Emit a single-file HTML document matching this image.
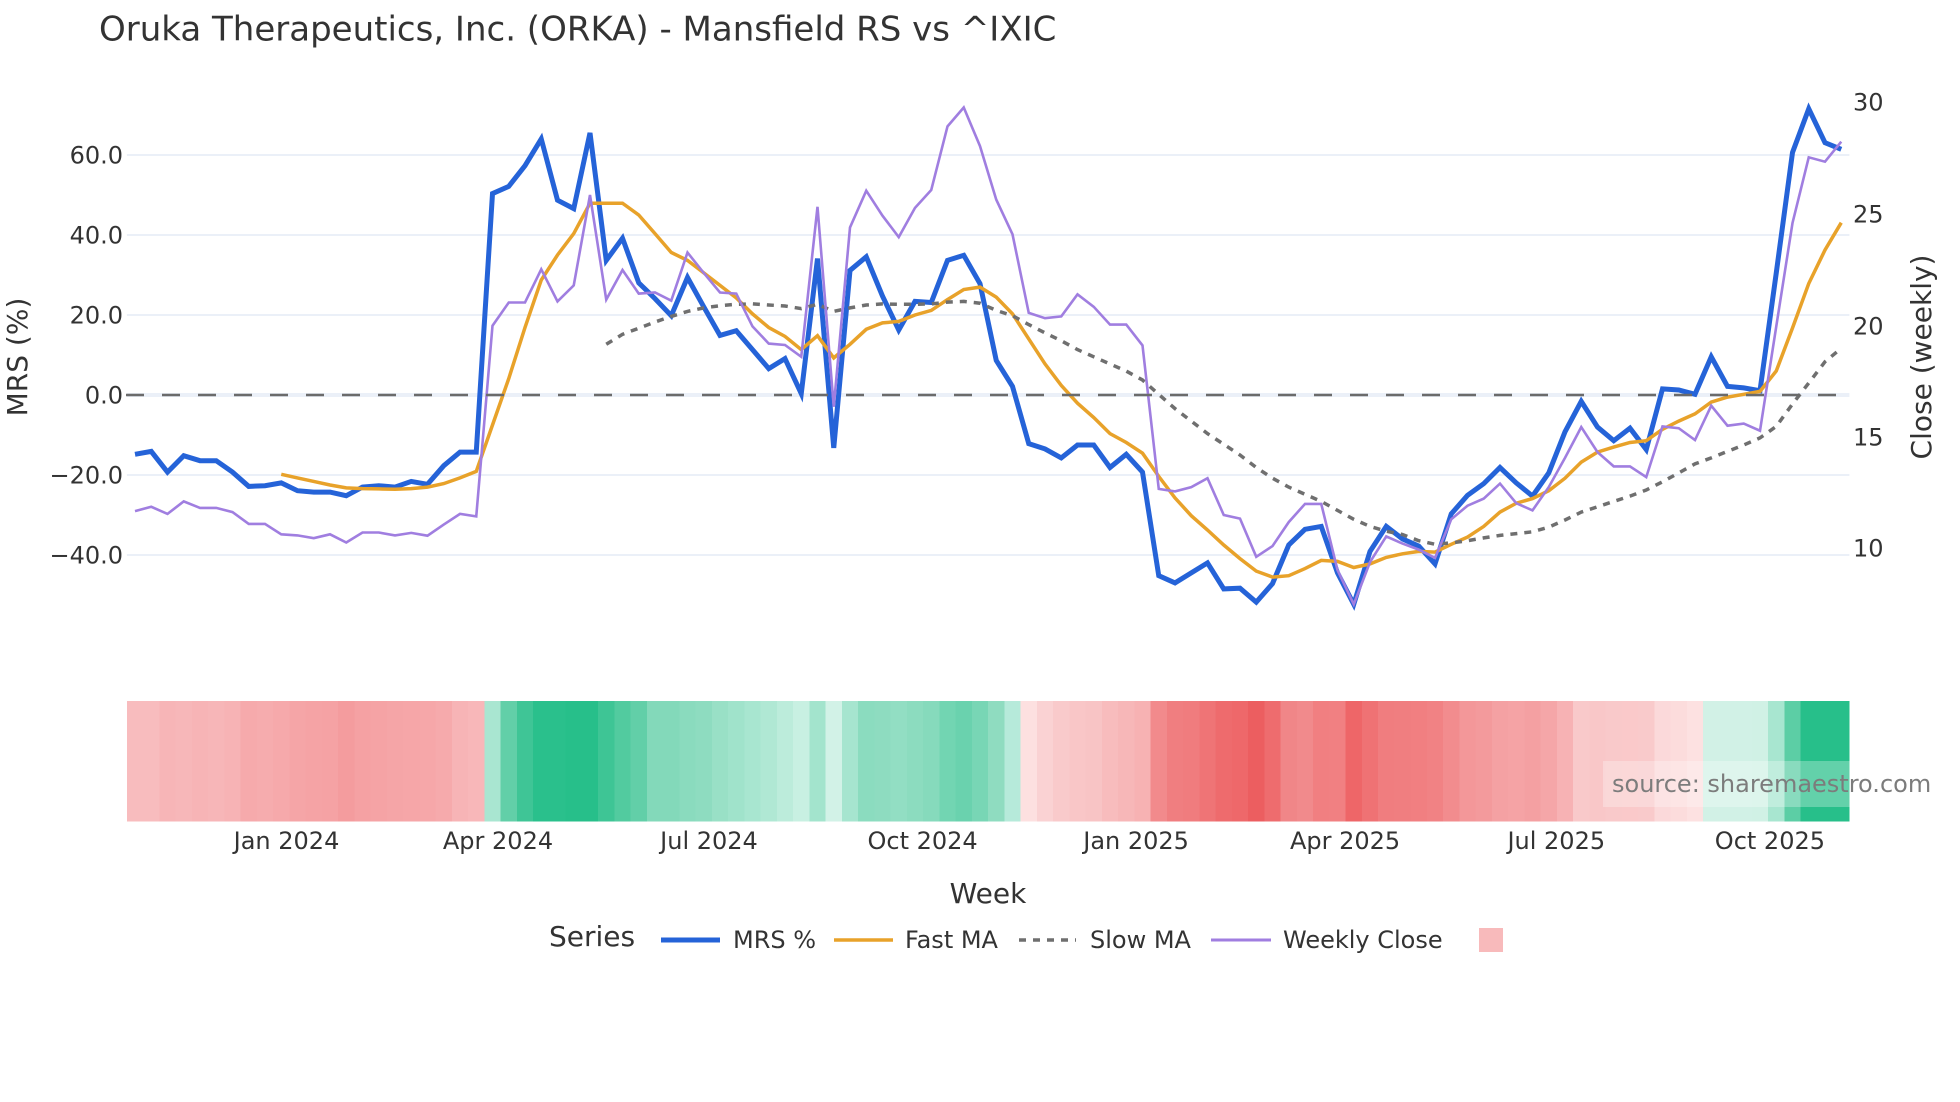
<!DOCTYPE html>
<html>
<head>
<meta charset="utf-8">
<style>
  html, body { margin: 0; padding: 0; background: #ffffff; }
  svg { display: block; }
  text { font-family: "DejaVu Sans", "Liberation Sans", sans-serif; fill: #333333; }
</style>
</head>
<body>
<svg width="1960" height="1102" viewBox="0 0 1960 1102" xmlns="http://www.w3.org/2000/svg">
  <rect x="0" y="0" width="1960" height="1102" fill="#ffffff"/>

  <!-- Title -->
  <text x="99" y="40.5" font-size="34">Oruka Therapeutics, Inc. (ORKA) - Mansfield RS vs ^IXIC</text>

  <!-- Gridlines -->
  <g stroke="#ebf0f8" stroke-width="2">
    <line x1="126.9" y1="155" x2="1849.4" y2="155"/>
    <line x1="126.9" y1="235" x2="1849.4" y2="235"/>
    <line x1="126.9" y1="315" x2="1849.4" y2="315"/>
    <line x1="126.9" y1="475" x2="1849.4" y2="475"/>
    <line x1="126.9" y1="555" x2="1849.4" y2="555"/>
  </g>
  <line x1="126.9" y1="395" x2="1849.4" y2="395" stroke="#ebf0f8" stroke-width="4"/>

  <!-- Left tick labels -->
  <g font-size="24" text-anchor="end">
    <text x="123" y="163.7">60.0</text>
    <text x="123" y="243.7">40.0</text>
    <text x="123" y="323.7">20.0</text>
    <text x="123" y="403.7">0.0</text>
    <text x="123" y="483.7">−20.0</text>
    <text x="123" y="563.7">−40.0</text>
  </g>
  <!-- Right tick labels -->
  <g font-size="24" text-anchor="start">
    <text x="1853" y="110.4">30</text>
    <text x="1853" y="222.7">25</text>
    <text x="1853" y="334.4">20</text>
    <text x="1853" y="445.4">15</text>
    <text x="1853" y="556.7">10</text>
  </g>

  <!-- Axis titles -->
  <text transform="translate(27,357) rotate(-90)" font-size="28" text-anchor="middle">MRS (%)</text>
  <text transform="translate(1931,357) rotate(-90)" font-size="28" text-anchor="middle">Close (weekly)</text>

  <!-- Heatmap strip -->
  <g shape-rendering="crispEdges">
    <rect x="126.88" y="701" width="16.75" height="120.7" fill="#f8bcbe"/>
    <rect x="143.13" y="701" width="16.75" height="120.7" fill="#f8bcbe"/>
    <rect x="159.38" y="701" width="16.75" height="120.7" fill="#f7b5b7"/>
    <rect x="175.63" y="701" width="16.75" height="120.7" fill="#f7b7b9"/>
    <rect x="191.88" y="701" width="16.75" height="120.7" fill="#f7b4b6"/>
    <rect x="208.13" y="701" width="16.75" height="120.7" fill="#f7b6b8"/>
    <rect x="224.38" y="701" width="16.75" height="120.7" fill="#f7b3b5"/>
    <rect x="240.63" y="701" width="16.75" height="120.7" fill="#f6aaac"/>
    <rect x="256.88" y="701" width="16.75" height="120.7" fill="#f6acae"/>
    <rect x="273.13" y="701" width="16.75" height="120.7" fill="#f6a9ab"/>
    <rect x="289.38" y="701" width="16.75" height="120.7" fill="#f5a5a7"/>
    <rect x="305.63" y="701" width="16.75" height="120.7" fill="#f5a3a5"/>
    <rect x="321.88" y="701" width="16.75" height="120.7" fill="#f5a2a4"/>
    <rect x="338.13" y="701" width="16.75" height="120.7" fill="#f49c9e"/>
    <rect x="354.38" y="701" width="16.75" height="120.7" fill="#f5a1a3"/>
    <rect x="370.63" y="701" width="16.75" height="120.7" fill="#f5a3a5"/>
    <rect x="386.88" y="701" width="16.75" height="120.7" fill="#f5a5a7"/>
    <rect x="403.13" y="701" width="16.75" height="120.7" fill="#f6a6a8"/>
    <rect x="419.38" y="701" width="16.75" height="120.7" fill="#f6a7a9"/>
    <rect x="435.63" y="701" width="16.75" height="120.7" fill="#f6aaac"/>
    <rect x="451.88" y="701" width="16.75" height="120.7" fill="#f7b4b6"/>
    <rect x="468.13" y="701" width="16.75" height="120.7" fill="#f8b7b9"/>
    <rect x="484.38" y="701" width="16.75" height="120.7" fill="#a9e6d1"/>
    <rect x="500.63" y="701" width="16.75" height="120.7" fill="#62cfa8"/>
    <rect x="516.88" y="701" width="16.75" height="120.7" fill="#3fc596"/>
    <rect x="533.13" y="701" width="16.75" height="120.7" fill="#2ac08c"/>
    <rect x="549.38" y="701" width="16.75" height="120.7" fill="#2ac08c"/>
    <rect x="565.63" y="701" width="16.75" height="120.7" fill="#27bf8a"/>
    <rect x="581.88" y="701" width="16.75" height="120.7" fill="#27bf8a"/>
    <rect x="598.13" y="701" width="16.75" height="120.7" fill="#3ec595"/>
    <rect x="614.38" y="701" width="16.75" height="120.7" fill="#52cb9f"/>
    <rect x="630.63" y="701" width="16.75" height="120.7" fill="#62cfa8"/>
    <rect x="646.88" y="701" width="16.75" height="120.7" fill="#83d9ba"/>
    <rect x="663.13" y="701" width="16.75" height="120.7" fill="#83d9ba"/>
    <rect x="679.38" y="701" width="16.75" height="120.7" fill="#8adbbe"/>
    <rect x="695.63" y="701" width="16.75" height="120.7" fill="#8edcc0"/>
    <rect x="711.88" y="701" width="16.75" height="120.7" fill="#99e0c6"/>
    <rect x="728.13" y="701" width="16.75" height="120.7" fill="#a0e3cb"/>
    <rect x="744.38" y="701" width="16.75" height="120.7" fill="#a8e6d0"/>
    <rect x="760.63" y="701" width="16.75" height="120.7" fill="#b0e8d4"/>
    <rect x="776.88" y="701" width="16.75" height="120.7" fill="#bcecdb"/>
    <rect x="793.13" y="701" width="16.75" height="120.7" fill="#c8f0e2"/>
    <rect x="809.38" y="701" width="16.75" height="120.7" fill="#a3e4cd"/>
    <rect x="825.63" y="701" width="16.75" height="120.7" fill="#d2f2e7"/>
    <rect x="841.88" y="701" width="16.75" height="120.7" fill="#a6e5cf"/>
    <rect x="858.13" y="701" width="16.75" height="120.7" fill="#8bdcbf"/>
    <rect x="874.38" y="701" width="16.75" height="120.7" fill="#8edcc0"/>
    <rect x="890.63" y="701" width="16.75" height="120.7" fill="#92dec3"/>
    <rect x="906.88" y="701" width="16.75" height="120.7" fill="#8cdcbf"/>
    <rect x="923.13" y="701" width="16.75" height="120.7" fill="#86dabc"/>
    <rect x="939.38" y="701" width="16.75" height="120.7" fill="#72d5b2"/>
    <rect x="955.63" y="701" width="16.75" height="120.7" fill="#6ad2ae"/>
    <rect x="971.88" y="701" width="16.75" height="120.7" fill="#78d6b5"/>
    <rect x="988.13" y="701" width="16.75" height="120.7" fill="#8fdcc0"/>
    <rect x="1004.38" y="701" width="16.75" height="120.7" fill="#b6eada"/>
    <rect x="1020.63" y="701" width="16.75" height="120.7" fill="#fde0e0"/>
    <rect x="1036.88" y="701" width="16.75" height="120.7" fill="#fad2d3"/>
    <rect x="1053.13" y="701" width="16.75" height="120.7" fill="#f9cacb"/>
    <rect x="1069.38" y="701" width="16.75" height="120.7" fill="#f9c6c7"/>
    <rect x="1085.63" y="701" width="16.75" height="120.7" fill="#f8c4c5"/>
    <rect x="1101.88" y="701" width="16.75" height="120.7" fill="#f8bcbd"/>
    <rect x="1118.13" y="701" width="16.75" height="120.7" fill="#f7b7b8"/>
    <rect x="1134.38" y="701" width="16.75" height="120.7" fill="#f7b2b3"/>
    <rect x="1150.63" y="701" width="16.75" height="120.7" fill="#f28a8c"/>
    <rect x="1166.88" y="701" width="16.75" height="120.7" fill="#f07e80"/>
    <rect x="1183.13" y="701" width="16.75" height="120.7" fill="#f07c7e"/>
    <rect x="1199.38" y="701" width="16.75" height="120.7" fill="#ef7476"/>
    <rect x="1215.63" y="701" width="16.75" height="120.7" fill="#ee6b6d"/>
    <rect x="1231.88" y="701" width="16.75" height="120.7" fill="#ee686a"/>
    <rect x="1248.13" y="701" width="16.75" height="120.7" fill="#ec5e60"/>
    <rect x="1264.38" y="701" width="16.75" height="120.7" fill="#ee6c6e"/>
    <rect x="1280.63" y="701" width="16.75" height="120.7" fill="#f08688"/>
    <rect x="1296.88" y="701" width="16.75" height="120.7" fill="#f18a8c"/>
    <rect x="1313.13" y="701" width="16.75" height="120.7" fill="#f17f81"/>
    <rect x="1329.38" y="701" width="16.75" height="120.7" fill="#f18082"/>
    <rect x="1345.63" y="701" width="16.75" height="120.7" fill="#ee6668"/>
    <rect x="1361.88" y="701" width="16.75" height="120.7" fill="#ef7274"/>
    <rect x="1378.13" y="701" width="16.75" height="120.7" fill="#f07d7f"/>
    <rect x="1394.38" y="701" width="16.75" height="120.7" fill="#f07e80"/>
    <rect x="1410.63" y="701" width="16.75" height="120.7" fill="#f17f81"/>
    <rect x="1426.88" y="701" width="16.75" height="120.7" fill="#f18284"/>
    <rect x="1443.13" y="701" width="16.75" height="120.7" fill="#f28c8e"/>
    <rect x="1459.38" y="701" width="16.75" height="120.7" fill="#f39799"/>
    <rect x="1475.63" y="701" width="16.75" height="120.7" fill="#f39a9c"/>
    <rect x="1491.88" y="701" width="16.75" height="120.7" fill="#f4a1a3"/>
    <rect x="1508.13" y="701" width="16.75" height="120.7" fill="#f5a3a5"/>
    <rect x="1524.38" y="701" width="16.75" height="120.7" fill="#f4a0a2"/>
    <rect x="1540.63" y="701" width="16.75" height="120.7" fill="#f5a6a8"/>
    <rect x="1556.88" y="701" width="16.75" height="120.7" fill="#f7b2b4"/>
    <rect x="1573.13" y="701" width="16.75" height="120.7" fill="#f9c9ca"/>
    <rect x="1589.38" y="701" width="16.75" height="120.7" fill="#f9c7c8"/>
    <rect x="1605.63" y="701" width="16.75" height="120.7" fill="#f9c9ca"/>
    <rect x="1621.88" y="701" width="16.75" height="120.7" fill="#fac9ca"/>
    <rect x="1638.13" y="701" width="16.75" height="120.7" fill="#f9cacb"/>
    <rect x="1654.38" y="701" width="16.75" height="120.7" fill="#fbd9da"/>
    <rect x="1670.63" y="701" width="16.75" height="120.7" fill="#fcdcdc"/>
    <rect x="1686.88" y="701" width="16.75" height="120.7" fill="#fde1e1"/>
    <rect x="1703.13" y="701" width="16.75" height="120.7" fill="#d2f1e6"/>
    <rect x="1719.38" y="701" width="16.75" height="120.7" fill="#d1f1e6"/>
    <rect x="1735.63" y="701" width="16.75" height="120.7" fill="#d1f1e6"/>
    <rect x="1751.88" y="701" width="16.75" height="120.7" fill="#d0f1e5"/>
    <rect x="1768.13" y="701" width="16.75" height="120.7" fill="#a8e6d0"/>
    <rect x="1784.38" y="701" width="16.75" height="120.7" fill="#5ccea5"/>
    <rect x="1800.63" y="701" width="16.75" height="120.7" fill="#27bf8a"/>
    <rect x="1816.88" y="701" width="16.75" height="120.7" fill="#27bf8a"/>
    <rect x="1833.13" y="701" width="16.25" height="120.7" fill="#27bf8a"/>
  </g>

  <!-- Series -->
  <g fill="none">
    <!-- MRS % -->
    <polyline stroke="#2563d8" stroke-width="5" points="135,454.3 151.25,451.4 167.5,472.1 183.75,455.7 200,460.7 216.25,460.7 232.5,472.1 248.75,486.4 265,485.7 281.25,482.9 297.5,490.7 313.75,492.1 330,492.1 346.25,495.7 362.5,487.1 378.75,485.7 395,487.1 411.25,481.4 427.5,484.3 443.75,465.7 460,452.1 476.25,452.1 492.5,193.6 508.75,186.4 525,165.7 541.25,138.9 557.5,200.2 573.75,208.6 590,132.9 606.25,260.4 622.5,238.2 638.75,282.9 655,298.6 671.25,315.7 687.5,277.5 703.75,306.8 720,335.4 736.25,330.7 752.5,349.6 768.75,368.6 785,358.6 801.25,393.6 817.5,258.6 833.75,447.9 850,270.4 866.25,256.8 882.5,296.1 898.75,330 915,301.4 931.25,302.5 947.5,260.4 963.75,255.3 980,283.6 996.25,360.4 1012.5,386.4 1028.75,443.6 1045,448.9 1061.25,457.9 1077.5,445 1093.75,445 1110,467.5 1126.25,454.3 1142.5,472.1 1158.75,575.7 1175,582.9 1191.25,572.9 1207.5,562.9 1223.75,588.9 1240,588.2 1256.25,602.1 1272.5,583.6 1288.75,545 1305,529.3 1321.25,526.4 1337.5,572.9 1353.75,604.3 1370,551.4 1386.25,526.4 1402.5,538.9 1418.75,546.1 1435,563.9 1451.25,513.9 1467.5,495.4 1483.75,483.6 1500,467.5 1516.25,482.9 1532.5,496.1 1548.75,472.9 1565,431.8 1581.25,401.4 1597.5,427.1 1613.75,440.7 1630,428.2 1646.25,449.6 1662.5,388.9 1678.75,390 1695,394.3 1711.25,356.8 1727.5,386.4 1743.75,387.9 1760,390.7 1776.25,273 1792.5,152.5 1808.75,108.8 1825,142.7 1841.25,149.3"/>
    <!-- Fast MA -->
    <polyline stroke="#e8a22a" stroke-width="3.5" points="281.25,474.3 297.5,477.9 313.75,481.4 330,485 346.25,487.9 362.5,488.6 378.75,488.9 395,489.3 411.25,488.6 427.5,487.1 443.75,483.6 460,477.9 476.25,471.4 492.5,425 508.75,378.6 525,327.5 541.25,280 557.5,255 573.75,233.6 590,203.2 606.25,203.2 622.5,203.2 638.75,215 655,233.6 671.25,252.5 687.5,260.4 703.75,272.9 720,285.4 736.25,297.9 752.5,313.9 768.75,327.5 785,336.4 801.25,349.6 817.5,335.7 833.75,357.9 850,344.3 866.25,329.3 882.5,322.9 898.75,321.4 915,315 931.25,310.4 947.5,299.6 963.75,289.5 980,287.1 996.25,297.1 1012.5,313.9 1028.75,338.9 1045,363.9 1061.25,385.4 1077.5,403.2 1093.75,417.5 1110,433.6 1126.25,442.5 1142.5,453.2 1158.75,476.4 1175,497.9 1191.25,515.7 1207.5,530 1223.75,545 1240,558.6 1256.25,571.1 1272.5,577.1 1288.75,575.7 1305,568.6 1321.25,560.4 1337.5,561.4 1353.75,567.5 1370,563.9 1386.25,557.4 1402.5,553.8 1418.75,551.4 1435,552.1 1451.25,544.3 1467.5,537.1 1483.75,526.4 1500,512.1 1516.25,503.2 1532.5,498.6 1548.75,490.7 1565,478.2 1581.25,462.1 1597.5,452.1 1613.75,447.1 1630,442.5 1646.25,440.7 1662.5,429.3 1678.75,421.1 1695,413.9 1711.25,402.1 1727.5,397.1 1743.75,394.3 1760,391.4 1776.25,371 1792.5,328 1808.75,283.5 1825,250 1841.25,222.7"/>
    <!-- Slow MA -->
    <polyline stroke="#6f6f6f" stroke-width="3.5" stroke-dasharray="7,7" points="606.25,344.3 622.5,334.3 638.75,328.2 655,322 671.25,316.4 687.5,311.4 703.75,307.9 720,305.7 736.25,304.3 752.5,303.9 768.75,305 785,306 801.25,308.6 817.5,304.3 833.75,311.4 850,307.9 866.25,305 882.5,303.9 898.75,304.3 915,304.3 931.25,303.9 947.5,302.1 963.75,301.4 980,303.2 996.25,310.4 1012.5,315.7 1028.75,324.6 1045,332.9 1061.25,340.7 1077.5,349.6 1093.75,356.8 1110,364 1126.25,371.1 1142.5,380 1158.75,394.3 1175,408.6 1191.25,421.1 1207.5,433.6 1223.75,444.3 1240,455 1256.25,467.5 1272.5,478.2 1288.75,487.1 1305,494.3 1321.25,501.4 1337.5,510.4 1353.75,519.3 1370,526.4 1386.25,531.2 1402.5,534.5 1418.75,540.7 1435,544.3 1451.25,542.9 1467.5,540.7 1483.75,537.9 1500,535.4 1516.25,533.6 1532.5,531.8 1548.75,527.1 1565,520 1581.25,512.1 1597.5,506.8 1613.75,501.4 1630,496.1 1646.25,490 1662.5,481.8 1678.75,472.9 1695,463.9 1711.25,457.9 1727.5,451.4 1743.75,445 1760,437.9 1776.25,426.4 1792.5,404 1808.75,383 1825,361.7 1841.25,348.3"/>
    <!-- Weekly Close -->
    <polyline stroke="#a07ee0" stroke-width="2.6" points="135,511.1 151.25,506.8 167.5,513.9 183.75,501.4 200,507.9 216.25,507.9 232.5,512.1 248.75,523.9 265,523.9 281.25,534.3 297.5,535.4 313.75,538.2 330,534.3 346.25,542.5 362.5,532.5 378.75,532.5 395,535.4 411.25,532.9 427.5,535.7 443.75,524.6 460,513.9 476.25,516.4 492.5,325.7 508.75,302.5 525,302.5 541.25,269.3 557.5,301.4 573.75,285.4 590,195 606.25,299.6 622.5,270 638.75,293.6 655,292.5 671.25,300.7 687.5,252.5 703.75,272.9 720,292.5 736.25,293.6 752.5,326.4 768.75,343.6 785,345 801.25,356.8 817.5,206.8 833.75,406.8 850,227.5 866.25,190.7 882.5,215.7 898.75,237.1 915,207.9 931.25,190 947.5,126.4 963.75,107.5 980,146.1 996.25,199.6 1012.5,234.3 1028.75,312.9 1045,318.2 1061.25,316.4 1077.5,294.3 1093.75,306.8 1110,324.6 1126.25,324.6 1142.5,345.4 1158.75,488.9 1175,491.4 1191.25,487.1 1207.5,478.2 1223.75,515 1240,518.6 1256.25,556.8 1272.5,546.1 1288.75,522.1 1305,503.9 1321.25,503.9 1337.5,570 1353.75,604.3 1370,562.1 1386.25,536.4 1402.5,543.6 1418.75,549.6 1435,557.9 1451.25,519.3 1467.5,505.7 1483.75,498.6 1500,483.6 1516.25,503.2 1532.5,510.4 1548.75,487.1 1565,457.9 1581.25,427.1 1597.5,452.1 1613.75,466.4 1630,466.4 1646.25,477.1 1662.5,426.4 1678.75,428.2 1695,440 1711.25,405.7 1727.5,425.7 1743.75,423.6 1760,430.7 1776.25,326.5 1792.5,223 1808.75,157.3 1825,161.7 1841.25,141.7"/>
  </g>

  <!-- Zero reference line (dashed) -->
  <line x1="126" y1="395" x2="1849.4" y2="395" stroke="#6b6b6b" stroke-width="2.5" stroke-dasharray="18,18"/>

  <!-- X tick labels -->
  <g font-size="24" text-anchor="middle">
    <text x="286.5" y="849">Jan 2024</text>
    <text x="498" y="849">Apr 2024</text>
    <text x="709" y="849">Jul 2024</text>
    <text x="922.6" y="849">Oct 2024</text>
    <text x="1136.1" y="849">Jan 2025</text>
    <text x="1345.1" y="849">Apr 2025</text>
    <text x="1556.3" y="849">Jul 2025</text>
    <text x="1769.9" y="849">Oct 2025</text>
  </g>

  <!-- X axis title -->
  <text x="988" y="903" font-size="28" text-anchor="middle">Week</text>

  <!-- Watermark -->
  <rect x="1603" y="761" width="337" height="46" fill="#ffffff" fill-opacity="0.28"/>
  <text x="1612" y="792" font-size="24" style="fill:#7c7c7c">source: sharemaestro.com</text>

  <!-- Legend -->
  <text x="549" y="946" font-size="28">Series</text>
  <line x1="661" y1="940" x2="720" y2="940" stroke="#2563d8" stroke-width="5"/>
  <text x="733" y="948" font-size="24">MRS %</text>
  <line x1="834" y1="940" x2="893" y2="940" stroke="#e8a22a" stroke-width="3.5"/>
  <text x="905" y="948" font-size="24">Fast MA</text>
  <line x1="1019" y1="940" x2="1076" y2="940" stroke="#6f6f6f" stroke-width="3.5" stroke-dasharray="7,7"/>
  <text x="1090" y="948" font-size="24">Slow MA</text>
  <line x1="1211" y1="940" x2="1271" y2="940" stroke="#a07ee0" stroke-width="3"/>
  <text x="1283" y="948" font-size="24">Weekly Close</text>
  <rect x="1479" y="928" width="24" height="24" fill="#f8babb"/>
</svg>
</body>
</html>
